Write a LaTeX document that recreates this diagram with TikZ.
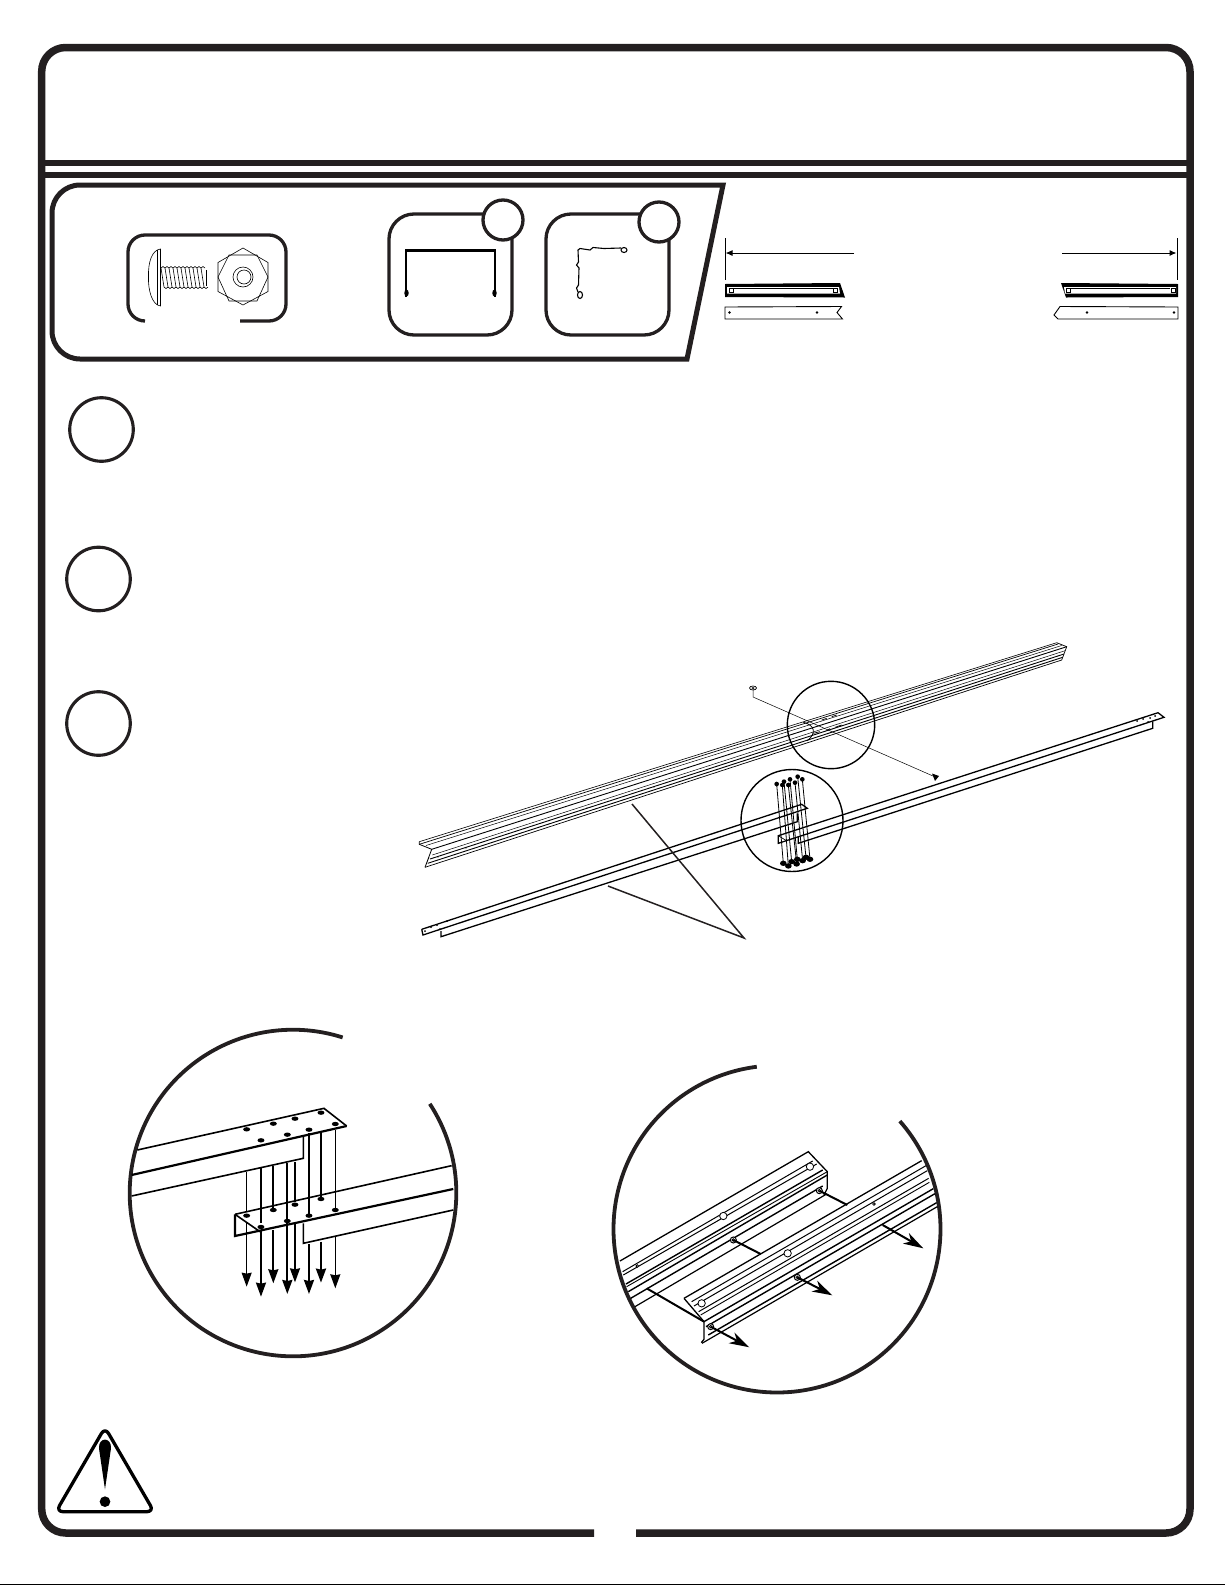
\documentclass[tikz,border=0pt]{standalone}
\usepackage{tikz}
\usepackage{xcolor}
\usetikzlibrary{arrows.meta}

\definecolor{inkdark}{HTML}{231F20}

\tikzset{
  frameline/.style={draw=inkdark, line width=7.5pt},
  ruleline/.style={draw=inkdark, line width=6pt},
  panelline/.style={draw=inkdark, line width=5pt, miter limit=10},
  boxline/.style={draw=inkdark, line width=3.3pt},
  stepline/.style={draw=inkdark, line width=3.1pt},
  bigline/.style={draw=inkdark, line width=3.8pt},
  leadline/.style={draw=inkdark, line width=1.5pt},
  fineline/.style={draw=black, line width=0.6pt},
  railline/.style={draw=black, line width=1.3pt},
  detailline/.style={draw=black, line width=1.6pt},
  dropline/.style={draw=black, -{Stealth[length=14pt, width=10pt, inset=1pt]}},
  pushline/.style={draw=black, line width=2pt, -{Stealth[length=20pt, width=12pt, inset=6pt]}}
}

\begin{document}
\begin{tikzpicture}[x=1pt, y=-1pt]
\useasboundingbox (0, 0) rectangle (1225, 1585);

\draw [frameline, rounded corners=24pt] (636, 1533) -- (1190, 1533) -- (1190, 47.5) -- (41.7, 47.5) -- (41.7, 1533) -- (594, 1533);
\draw [ruleline] (41.7, 162.7) -- (1190, 162.7);
\draw [ruleline] (41.7, 174.7) -- (1190, 174.7);
\draw [black, line width=1.2pt] (0, 1584.4) -- (1225, 1584.4);

\draw [panelline] (723, 185) -- (400, 185) [rounded corners=28pt] -- (52, 185) -- (52, 359) -- (400, 359) [sharp corners] -- (687, 359) -- cycle;

\draw [boxline, rounded corners=17pt] (240, 321) -- (286, 321) -- (286, 235) -- (128, 235) -- (128, 321) -- (145, 321);
\draw [fineline, fill=white] (160.5, 249) -- (160.5, 306) .. controls (152, 305) and (148, 290) .. (148.5, 277) .. controls (148, 262) and (152, 250) .. cycle;
\draw [fineline] (157.5, 250) -- (157.5, 305);
\foreach \t in {161, 165, ..., 201} {
  \draw [fineline] (\t, 268) -- ({\t + 3}, 287);
  \draw [fineline] (\t, 268) -- ({\t + 2}, 266.5) -- ({\t + 4}, 268);
  \draw [fineline] ({\t + 3}, 287) -- ({\t + 5}, 288.5) -- ({\t + 7}, 287);
}
\draw [fineline] (206, 270) -- (206, 286);
\draw [fineline] (243, 248) -- (268, 262.5) -- (268, 291.5) -- (243, 305) -- (218, 291.5) -- (218, 262.5) -- cycle;
\draw [fineline] (229, 255) -- (257, 255) -- (268, 277) -- (257, 301) -- (229, 301) -- (218, 277) -- cycle;
\draw [fineline] (243, 277) circle (10);
\draw [fineline] (244, 277) circle (7);

\draw [boxline, rounded corners=25pt] (389, 214) rectangle (512, 335);
\draw [boxline, fill=white] (503, 220) circle (20);
\draw [black, line width=2.2pt] (406, 297) -- (406, 250.5) -- (495, 250.5) -- (495, 297);
\fill [black] (406.5, 293) ellipse (2.2 and 3.5);
\fill [black] (494.5, 293) ellipse (2.2 and 3.5);

\draw [boxline, rounded corners=25pt] (546, 214) rectangle (669, 335);
\draw [boxline, fill=white] (659, 222) circle (20);
\draw [black, line width=1.1pt] (621, 248) -- (604, 248.5) -- (593, 247.5) -- (590, 250) -- (580, 248.5) -- (578, 250) -- (578.5, 262) -- (576.5, 265) -- (579, 268) -- (578.5, 285) -- (576.5, 288) -- (578, 292);
\draw [black, line width=1.1pt] (624, 250) ellipse (3 and 2.5);
\draw [black, line width=1.1pt] (580, 295) ellipse (2.5 and 3.5);

\draw [black, line width=0.8pt] (725, 238) -- (725, 280);
\draw [black, line width=1pt, -{Latex[length=7pt, width=6pt]}] (854, 253) -- (725.5, 253);
\draw [black, line width=0.8pt] (1177, 238) -- (1177, 280);
\draw [black, line width=1pt, -{Latex[length=7pt, width=6pt]}] (1062, 253) -- (1176.5, 253);

\fill [black] (725, 284) -- (840, 283) -- (845, 297.5) -- (725, 297) -- cycle;
\fill [white] (727, 287) -- (839, 287) -- (840, 293.5) -- (727, 293.5) -- cycle;
\draw [black, line width=0.7pt] (734, 288.5) -- (833, 288.5);
\draw [black, line width=0.7pt] (729, 288) rectangle (733, 292.5);
\draw [black, line width=0.7pt] (833, 288) rectangle (837, 292.5);
\fill [black] (1178, 284) -- (1061, 283) -- (1066, 297.5) -- (1178, 297) -- cycle;
\fill [white] (1064, 287) -- (1176, 287) -- (1176, 293.5) -- (1065, 293.5) -- cycle;
\draw [black, line width=0.7pt] (1071, 288.5) -- (1170, 288.5);
\draw [black, line width=0.7pt] (1066, 288) rectangle (1070, 292.5);
\draw [black, line width=0.7pt] (1171, 288) rectangle (1175, 292.5);

\draw [black, line width=0.9pt] (841.5, 306.5) -- (725, 307) -- (725, 319) -- (842.5, 319) -- (837, 312.5) -- cycle;
\fill [black] (729.5, 312.5) circle (1.4);
\fill [black] (817, 312.5) circle (1.4);
\draw [black, line width=0.9pt] (1060, 306.5) -- (1178, 307) -- (1178, 319) -- (1058, 319) -- (1054, 315) -- cycle;
\fill [black] (1087, 312.5) circle (1.4);
\fill [black] (1174, 312.5) circle (1.4);

\draw [stepline] (101.5, 429.5) circle (31.8);
\draw [stepline] (98.5, 579) circle (31.8);
\draw [stepline] (98.5, 723.5) circle (31.8);

\foreach \xa/\ya/\xb/\yb/\w in {419.3/841.7/1056.7/642.7/0.6, 419.3/844.3/1058/644/0.7, 426/845.5/1061.7/645.5/0.5, 431.7/849.3/1066.7/646.7/0.9, 432.3/855/1065/650.7/0.5, 430/859/1064/654/0.9, 427.7/863.3/1062.7/657.3/0.9, 425/867.3/1061.7/660/0.7}
  \draw [black, line width=\w pt] (\xa, \ya) -- (\xb, \yb);
\draw [black, line width=0.8pt] (419.3, 841.7) -- (419.3, 844.3) -- (431.7, 849.3) -- (425, 867.3) -- (429, 857);
\draw [black, line width=0.7pt] (1056.7, 642.7) -- (1066.7, 646.7) -- (1061.7, 660);
\foreach \x/\y in {654/787, 587/808, 466/848, 958/678, 438/857}
  \fill [black] (\x, \y) circle (0.7);

\draw [railline] (421.7, 929.3) -- (801.7, 804.3) -- (807.3, 808.3) -- (423, 935) -- (421.7, 929.3);
\draw [railline] (441, 931) -- (441, 936.7) -- (797.3, 821.7) -- (797.3, 813.3);
\draw [railline] (1158, 712.7) -- (1164, 717.3) -- (778.3, 843.3) -- (778.3, 835.7) -- cycle;
\draw [railline] (798.3, 836.8) -- (798.3, 843.3) -- (1152.7, 728.3) -- (1152.7, 721.5);
\draw [black, line width=0.7pt] (778.3, 835.7) -- (787, 841);
\foreach \x/\y in {425/931, 431/927, 437/925, 447/921, 440/929, 1137/721, 1143/719, 1150/718, 1155/716, 1148/722}
  \fill [black] (\x, \y) circle (1);

\coordinate (washertop) at (753, 688);
\coordinate (washerfoot) at (753, 697);
\coordinate (screwtip) at (933, 776);
\draw [black, line width=0.5pt] (washertop) -- (washerfoot) -- (screwtip);
\draw [black, line width=0.7pt] (753, 688) ellipse (3.5 and 2);
\draw [black, line width=0.4pt] (753, 688) ellipse (1.2 and 0.8);
\fill [black] (932, 773.5) -- (939, 776) -- (935, 781) -- cycle;

\begin{scope}[shift={(720, 670)}, scale=0.3333]
\draw [black, line width=0.8pt] (250, 157) .. controls (285, 165) and (290, 190) .. (262, 212);
\foreach \xa/\ya/\xb/\yb in {305/150/320/145, 335/140/350/135, 280/190/300/185, 320/182/330/176, 345/172/365/165}
  \draw [black, line width=0.7pt] (\xa, \ya) -- (\xb, \yb);
\foreach \xa/\ya/\xb/\yb in {170/342/190/580, 187/345/205/588, 192/335/215/575, 205/345/230/582, 210/328/232/568, 225/338/248/572, 233/320/258/562, 247/328/270/568} {
  \draw [black, line width=0.8pt] (\xa, \ya) -- (\xb, \yb);
  \fill [black] (\xa, \ya) circle (7);
  \fill [black] (\xb, \yb) ellipse (10 and 8);
}
\end{scope}

\draw [black, line width=1.4pt] (831, 725) circle (43.7);
\draw [black, line width=1.4pt] (792, 820.5) circle (51);

\coordinate (leadfoot) at (744, 938);
\coordinate (leadupper) at (632, 804);
\coordinate (leadlower) at (608, 886);
\draw [leadline] (leadupper) -- (leadfoot) -- (leadlower);

\draw [bigline] ([shift={(-33.1:163.3)}] 293, 1193) arc (-33.1:287.7:163.3);

\begin{scope}[shift={(120, 1020)}, scale=0.3333]
\draw [detailline] (52, 390) -- (612, 265) -- (680, 318);
\draw [black, line width=2.2pt] (35, 465) -- (680, 318);
\draw [detailline] (550, 350) -- (550, 415) -- (35, 528);
\draw [detailline] (345, 583) -- (995, 437);
\draw [black, line width=2.2pt] (345, 583) -- (345, 648) -- (1000, 507);
\draw [detailline] (345, 583) -- (420, 635);
\draw [detailline] (550, 610) -- (550, 670) -- (1000, 570);
\foreach \x/\y in {380/328, 460/311, 525/296, 603/278, 423/361, 502/344, 567/329, 646/312, 380/587, 423/621, 460/570, 502/603, 525/554, 567/587, 603/537, 646/570}
  \fill [black] (\x, \y) ellipse (10.5 and 6.5);
\foreach \x/\ya/\yb/\yc/\yd/\w in {380/455/575/610/800/1.2, 423/445/610/630/830/1.8, 460/437/565/630/790/1.8, 502/428/600/610/822/2, 525/425/545/610/787/1.5, 567/340/585/672/822/2, 603/340/530/665/788/2.2, 646/330/565/650/805/1.5} {
  \draw [black, line width=\w pt] (\x, \ya) -- (\x, \yb);
  \draw [dropline, line width=\w pt] (\x, \yc) -- (\x, \yd);
}
\end{scope}

\draw [bigline] ([shift={(-41.3:163.5)}] 777, 1229) arc (-41.3:262.9:163.5);

\begin{scope}[shift={(600, 1060)}, scale=0.3333]
\draw [railline] (60, 603) -- (625, 275) -- (682, 335) -- (682, 385) -- (672, 405);
\foreach \xa/\ya/\xb/\yb/\w in {68/635/638/303/1, 70/645/650/312/1, 78/672/668/330/1.4, 80/680/682/335/0.9, 85/695/682/345/1.4, 92/715/668/378/1.4, 105/740/680/402/1.2}
  \draw [black, line width=\w pt] (\xa, \ya) -- (\xb, \yb);
\draw [railline] (252, 715) -- (965, 302);
\draw [railline] (252, 715) -- (312, 785) -- (312, 838) -- (304, 848);
\foreach \xa/\ya/\xb/\yb/\w in {275/725/978/317/1, 282/738/982/332/1, 296/755/986/355/1, 302/765/988/367/0.9, 312/785/1000/386/1.4, 318/800/1005/401/1.4, 325/825/1010/428/1.4, 306/850/1012/440/1.2}
  \draw [black, line width=\w pt] (\xa, \ya) -- (\xb, \yb);
\foreach \x/\y/\r in {370/468/11, 630/320/11, 305/730/11, 563/580/11, 112/618/4, 822/432/4}
  \draw [black, line width=0.8pt, fill=white] (\x, \y) circle (\r);
\foreach \x/\y in {658/392, 400/540, 592/652, 332/800} {
  \draw [black, line width=1pt, fill=white] (\x, \y) circle (9);
  \draw [black, line width=0.8pt] (\x, \y) circle (4);
}
\draw [black, line width=2pt] (658, 392) -- (742, 435);
\draw [black, line width=2pt] (400, 540) -- (482, 582);
\draw [black, line width=2pt] (140, 685) -- (312, 785);
\draw [pushline] (332, 800) -- (448, 862);
\draw [pushline] (592, 652) -- (697, 706);
\draw [pushline] (848, 495) -- (970, 565);
\end{scope}

\begin{scope}[shift={(30, 1410)}, scale=0.3333]
\draw [black, line width=3.3pt, line join=round, rounded corners=7pt] (225, 52) -- (78, 305) -- (372, 305) -- cycle;
\fill [black] (225, 238) -- (207, 115) .. controls (205, 80) and (245, 80) .. (243, 115) -- cycle;
\fill [black] (225, 275) circle (16);
\end{scope}
\end{tikzpicture}
\end{document}
